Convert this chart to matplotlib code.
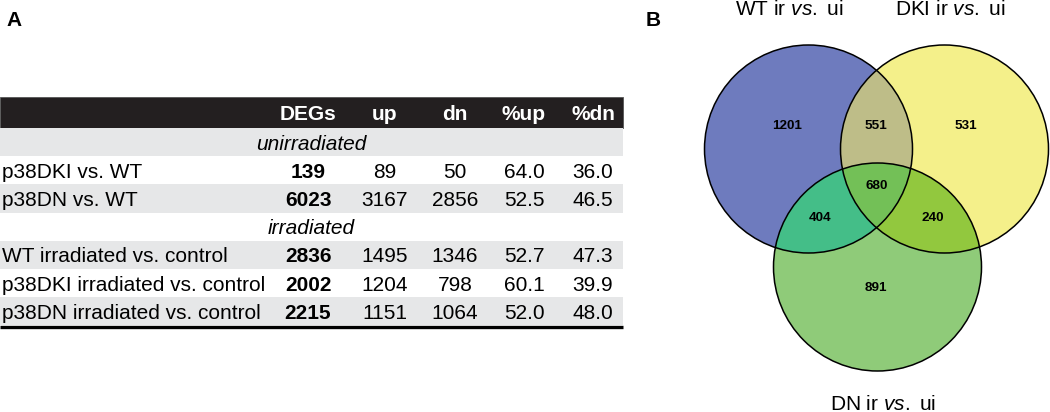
import numpy as np
import matplotlib.pyplot as plt
from matplotlib.patches import Rectangle, Circle, PathPatch
from matplotlib.path import Path

plt.rcParams['font.family'] = ['Liberation Sans', 'DejaVu Sans']
plt.rcParams['mathtext.fontset'] = 'custom'
plt.rcParams['mathtext.rm'] = 'Liberation Sans'
plt.rcParams['mathtext.it'] = 'Liberation Sans:italic'
plt.rcParams['mathtext.bf'] = 'Liberation Sans:bold'

# ---- table data (panel A)
headers = ['DEGs', 'up', 'dn', '%up', '%dn']
sections = ['unirradiated', 'irradiated']
section_sizes = [2, 3]
row_labels = ['p38DKI vs. WT', 'p38DN vs. WT', 'WT irradiated vs. control',
              'p38DKI irradiated vs. control', 'p38DN irradiated vs. control']
degs = [139, 6023, 2836, 2002, 2215]
up = [89, 3167, 1495, 1204, 1151]
dn = [50, 2856, 1346, 798, 1064]
pct_up = [64.0, 52.5, 52.7, 60.1, 52.0]
pct_dn = [36.0, 46.5, 47.3, 39.9, 48.0]

# ---- venn data (panel B)
set_names = [r'WT ir $\mathit{vs.}$ ui', r'DKI ir $\mathit{vs.}$ ui', r'DN ir $\mathit{vs.}$ ui']
regions = ['100', '010', '001', '110', '101', '011', '111']
counts = [1201, 531, 891, 551, 404, 240, 680]

fig = plt.figure(figsize=(10.5, 4.12), dpi=100)
ax = fig.add_axes([0, 0, 1, 1])
ax.set_xlim(0, 1050)
ax.set_ylim(412, 0)
ax.axis('off')

FS = 15
# table layout
col_x = [308, 385, 455, 524, 593]
tab_w = 623
top = 97
head_h = 31
row_h = 28.2
cap = 0.716 * FS * 100 / 72 / 2  # half cap height in px

ax.text(14, 20, 'A', fontsize=15, fontweight='bold', ha='center', va='center')
ax.text(653, 20, 'B', fontsize=15, fontweight='bold', ha='center', va='center')

ax.add_patch(Rectangle((0, top), tab_w, head_h, facecolor='#231f20', edgecolor='#555555', lw=0.6))
for h, x in zip(headers, col_x):
    ax.text(x, top + head_h / 2 + cap, h, color='white', fontsize=FS, fontweight='bold',
            ha='center', va='baseline')

y = top + head_h
k = 0
line = 0
for sec, n in zip(sections, section_sizes):
    rows = [('sec', sec)] + [('row', k + j) for j in range(n)]
    k += n
    for kind, v in rows:
        if line % 2 == 0:
            ax.add_patch(Rectangle((0, y), tab_w, row_h, facecolor='#e6e7e8', edgecolor='none'))
        yb = y + row_h / 2 + cap
        if kind == 'sec':
            ax.text(311, yb, v, fontsize=FS, style='italic', ha='center', va='baseline')
        else:
            i = v
            ax.text(2, yb, row_labels[i], fontsize=FS, ha='left', va='baseline')
            vals = [str(degs[i]), str(up[i]), str(dn[i]), f'{pct_up[i]:.1f}', f'{pct_dn[i]:.1f}']
            for j, (s, x) in enumerate(zip(vals, col_x)):
                ax.text(x, yb, s, fontsize=FS, fontweight='bold' if j == 0 else 'normal',
                        ha='center', va='baseline')
        y += row_h
        line += 1
ax.plot([0, tab_w], [y + 1.5, y + 1.5], color='black', lw=2.4, solid_capstyle='butt')

# ---- venn
r = 104
centers = [(808.5, 149), (944.5, 149), (877.5, 267)]
fills = ['#6e7bbe', '#f4f08a', '#8fcb79']
pair_cols = {'110': '#bebd88', '101': '#44be88', '011': '#92c83e'}
triple_col = '#73c057'

circ = [Circle(c, r, facecolor=f, edgecolor='none') for c, f in zip(centers, fills)]
for c in circ:
    ax.add_patch(c)

def clipped(src, clip, color):
    p = Circle(centers[src], r, facecolor=color, edgecolor='none')
    ax.add_patch(p)
    cp = Circle(centers[clip], r, transform=ax.transData)
    p.set_clip_path(cp)

clipped(1, 0, pair_cols['110'])
clipped(2, 0, pair_cols['101'])
clipped(2, 1, pair_cols['011'])

# lens of A and B, then clip to C
(ax0, ay0), (bx0, by0) = centers[0], centers[1]
d = bx0 - ax0
th = np.arccos(d / 2 / r)
t1 = np.linspace(-th, th, 100)
t2 = np.linspace(np.pi - th, np.pi + th, 100)
pts = np.vstack([np.column_stack([ax0 + r * np.cos(t1), ay0 + r * np.sin(t1)]),
                 np.column_stack([bx0 + r * np.cos(t2), by0 + r * np.sin(t2)])])
lens = PathPatch(Path(np.vstack([pts, pts[:1]]), closed=True), facecolor=triple_col, edgecolor='none')
ax.add_patch(lens)
lens.set_clip_path(Circle(centers[2], r, transform=ax.transData))

for c in centers:
    ax.add_patch(Circle(c, r, facecolor='none', edgecolor='black', lw=1.1))

label_pos = {'100': (787, 126), '010': (966, 126), '001': (876, 288), '110': (876, 126),
             '101': (820, 218), '011': (933, 218), '111': (877, 186)}
for reg, n in zip(regions, counts):
    x, yy = label_pos[reg]
    ax.text(x, yy, str(n), fontsize=9.7, fontweight='bold', ha='center', va='center')

name_pos = [(789, 15), (950, 15), (883, 410)]
for nm, (x, yy) in zip(set_names, name_pos):
    ax.text(x, yy, nm, fontsize=FS, ha='center', va='baseline')

fig.savefig('out.png', dpi=100)
